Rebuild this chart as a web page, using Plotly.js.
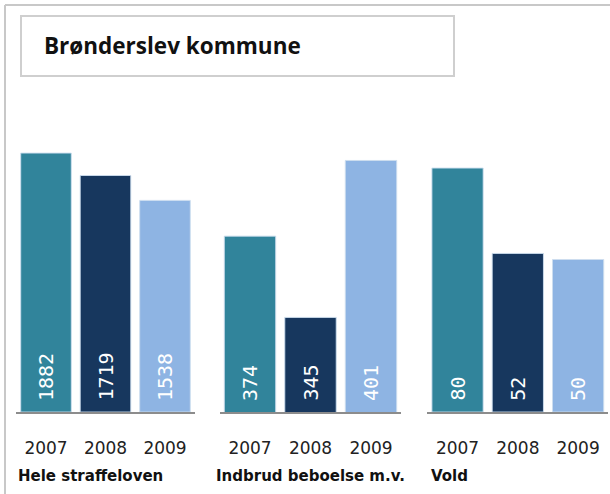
<!DOCTYPE html>
<html>
<head>
<meta charset="utf-8">
<script src="https://cdn.plot.ly/plotly-3.0.1.min.js"></script>
<style>html,body{margin:0;padding:0;background:#fff;}#chart{width:610px;height:494px;}</style>
</head>
<body>
<div id="chart"></div>
<script>
const chartTitle = "Brønderslev kommune";
const years = ["2007", "2008", "2009"];
const groups = ["Hele straffeloven", "Indbrud beboelse m.v.", "Vold"];
const heleStraffeloven = [1882, 1719, 1538];
const indbrudBeboelse = [374, 345, 401];
const vold = [80, 52, 50];
const yearColors = ["#31849B", "#17375E", "#8EB4E3"];

const W = 610, H = 494;
const px = v => v / W;
const py = v => 1 - v / H;

const seriesList = [heleStraffeloven, indbrudBeboelse, vold];
const xDomains = [[px(16.25), px(194.75)], [px(219.75), px(401.25)], [px(427.4), px(608.25)]];
const yDomain = [82 / H, 354 / H];
const yRanges = [[0, 1977], [311.25, 408.3], [0, 89.2]];
const axId = (p, i) => i === 0 ? p : p + (i + 1);

const traces = seriesList.map((vals, i) => ({
  type: 'bar',
  x: years,
  y: vals,
  xaxis: axId('x', i),
  yaxis: axId('y', i),
  marker: { color: yearColors, line: { color: 'rgba(205,222,238,0.9)', width: 1 } },
  hoverinfo: 'skip',
  showlegend: false
}));

const valueLabels = [];
seriesList.forEach((vals, i) => {
  vals.forEach((v, j) => {
    valueLabels.push({
      text: String(v), xref: axId('x', i), yref: axId('y', i),
      x: j, y: yRanges[i][0], textangle: -90,
      xanchor: 'center', yanchor: 'bottom', yshift: 9,
      showarrow: false,
      font: { family: 'DejaVu Sans Mono', size: 20, color: '#ffffff' }
    });
  });
});

const layout = {
  width: W, height: H,
  margin: { l: 0, r: 0, t: 0, b: 0 },
  paper_bgcolor: '#ffffff',
  plot_bgcolor: 'rgba(0,0,0,0)',
  bargap: 0.15,
  showlegend: false,
  shapes: [
    { type: 'line', xref: 'paper', yref: 'paper', x0: px(5), x1: 1, y0: py(5), y1: py(5), line: { color: '#c8c8c8', width: 2 } },
    { type: 'line', xref: 'paper', yref: 'paper', x0: px(5), x1: px(5), y0: py(5), y1: 0, line: { color: '#c8c8c8', width: 2 } },
    { type: 'rect', xref: 'paper', yref: 'paper', x0: px(21), x1: px(454), y0: py(16), y1: py(76), line: { color: '#cfcfcf', width: 2 }, fillcolor: 'rgba(0,0,0,0)' }
  ],
  annotations: [
    { text: '<b>' + chartTitle + '</b>', xref: 'paper', yref: 'paper', x: px(42), y: py(45), xanchor: 'left', yanchor: 'middle', showarrow: false, font: { family: 'Open Sans', size: 22.5, color: '#111111' } }
  ].concat(groups.map((g, i) => ({
    text: '<b>' + g + '</b>', xref: 'paper', yref: 'paper', x: [px(16), px(214), px(429)][i], y: py(476), xanchor: 'left', yanchor: 'middle', showarrow: false, font: { family: 'DejaVu Sans', size: 15, color: '#111111' }
  }))).concat(valueLabels)
};

for (let i = 0; i < 3; i++) {
  layout[axId('xaxis', i)] = {
    domain: xDomains[i], anchor: axId('y', i),
    type: 'category', categoryorder: 'array', categoryarray: years,
    range: [-0.5, years.length - 0.5],
    showline: true, linecolor: '#8c8c8c', linewidth: 1.5,
    showgrid: false, zeroline: false, ticks: '', ticklabelstandoff: 20,
    tickfont: { family: 'DejaVu Sans', size: 17, color: '#222222' }, fixedrange: true
  };
  layout[axId('yaxis', i)] = {
    domain: yDomain, anchor: axId('x', i),
    range: yRanges[i], visible: false, showgrid: false, zeroline: false, fixedrange: true
  };
}

Plotly.newPlot('chart', traces, layout, { staticPlot: true, displayModeBar: false });
</script>
</body>
</html>
